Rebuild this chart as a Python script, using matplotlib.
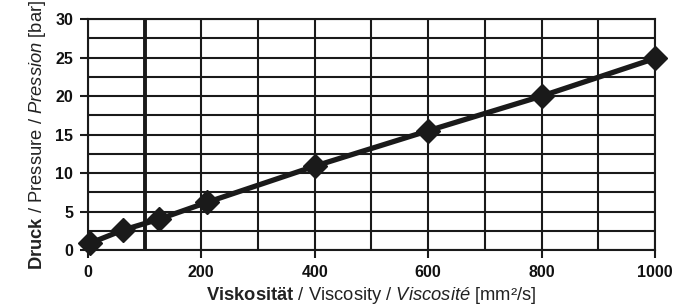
import matplotlib
matplotlib.use("Agg")
import matplotlib.pyplot as plt
import numpy as np

viscosity = [4, 62, 125, 210, 400, 600, 800, 1000]
pressure = [0.9, 2.6, 4.0, 6.2, 10.9, 15.5, 20.0, 24.9]
xticks = [0, 200, 400, 600, 800, 1000]
yticks = [0, 5, 10, 15, 20, 25, 30]

plt.rcParams['font.family'] = ['Liberation Sans', 'DejaVu Sans']
plt.rcParams['mathtext.fontset'] = 'custom'
plt.rcParams['mathtext.rm'] = 'Liberation Sans'
plt.rcParams['mathtext.bf'] = 'Liberation Sans:bold'
plt.rcParams['mathtext.it'] = 'Liberation Sans:italic'

fig = plt.figure(figsize=(6.86, 3.08), dpi=100)
ax = fig.add_axes([0.128, 0.188, 0.827, 0.75])

ax.set_xlim(0, 1000)
ax.set_ylim(0, 30)
ax.set_xticks(xticks)
ax.set_yticks(yticks)
ax.set_xticks(np.arange(0, 1001, 100), minor=True)
ax.set_yticks(np.arange(0, 30.1, 2.5), minor=True)
ax.grid(which='both', color='#1a1a1a', linewidth=1.5)
ax.set_axisbelow(True)
ax.axvline(100, color='#1a1a1a', linewidth=2.8, zorder=1)

ax.tick_params(which='major', direction='out', length=6, width=1.5, color='#1a1a1a',
               labelsize=11.5, pad=4.5, labelcolor='#111111')
ax.tick_params(which='minor', length=0)
for lab in ax.get_xticklabels() + ax.get_yticklabels():
    lab.set_fontweight('bold')
for s in ax.spines.values():
    s.set_linewidth(1.5)
    s.set_color('#1a1a1a')

ax.plot(viscosity, pressure, color='#1a1a1a', linewidth=3.8, marker='D',
        markersize=12, markerfacecolor='#1a1a1a', markeredgecolor='#1a1a1a',
        clip_on=False, zorder=3)

ax.set_xlabel(r"$\mathbf{Viskosität}$ / Viscosity / $\mathit{Viscosité}$ [mm²/s]",
              fontsize=13.2, labelpad=4, color='#222222')
ax.set_ylabel(r"$\mathbf{Druck}$ / Pressure / $\mathit{Pression}$ [bar]",
              fontsize=13.2, labelpad=5, color='#222222')

fig.savefig("out.png", dpi=100)
